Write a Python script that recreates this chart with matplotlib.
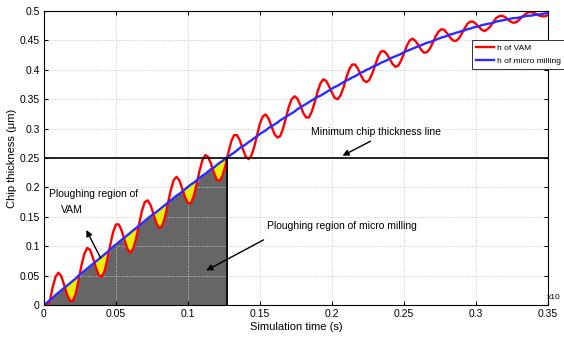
# chip thickness of VAM vs micro milling, ploughing regions shaded

import numpy as np
import matplotlib
matplotlib.use("Agg")
import matplotlib.pyplot as plt
from matplotlib.patches import Rectangle
from matplotlib.ticker import FormatStrFormatter

# simulation time (s, x10^-3)
time = [0.000, 0.002, 0.004, 0.006, 0.008, 0.010, 0.012, 0.014, 0.016, 0.018,
        0.020, 0.022, 0.024, 0.026, 0.028, 0.030, 0.032, 0.034, 0.036, 0.038,
        0.040, 0.042, 0.044, 0.046, 0.048, 0.050, 0.052, 0.054, 0.056, 0.058,
        0.060, 0.062, 0.064, 0.066, 0.068, 0.070, 0.072, 0.074, 0.076, 0.078,
        0.080, 0.082, 0.084, 0.086, 0.088, 0.090, 0.092, 0.094, 0.096, 0.098,
        0.100, 0.102, 0.104, 0.106, 0.108, 0.110, 0.112, 0.114, 0.116, 0.118,
        0.120, 0.122, 0.124, 0.126, 0.128, 0.130, 0.132, 0.134, 0.136, 0.138,
        0.140, 0.142, 0.144, 0.146, 0.148, 0.150, 0.152, 0.154, 0.156, 0.158,
        0.160, 0.162, 0.164, 0.166, 0.168, 0.170, 0.172, 0.174, 0.176, 0.178,
        0.180, 0.182, 0.184, 0.186, 0.188, 0.190, 0.192, 0.194, 0.196, 0.198,
        0.200, 0.202, 0.204, 0.206, 0.208, 0.210, 0.212, 0.214, 0.216, 0.218,
        0.220, 0.222, 0.224, 0.226, 0.228, 0.230, 0.232, 0.234, 0.236, 0.238,
        0.240, 0.242, 0.244, 0.246, 0.248, 0.250, 0.252, 0.254, 0.256, 0.258,
        0.260, 0.262, 0.264, 0.266, 0.268, 0.270, 0.272, 0.274, 0.276, 0.278,
        0.280, 0.282, 0.284, 0.286, 0.288, 0.290, 0.292, 0.294, 0.296, 0.298,
        0.300, 0.302, 0.304, 0.306, 0.308, 0.310, 0.312, 0.314, 0.316, 0.318,
        0.320, 0.322, 0.324, 0.326, 0.328, 0.330, 0.332, 0.334, 0.336, 0.338,
        0.340, 0.342, 0.344, 0.346, 0.348, 0.350]

# h of VAM (red)
h_vam = [0.000, 0.000, 0.006, 0.030, 0.048, 0.055, 0.049, 0.034, 0.018, 0.007,
         0.007, 0.019, 0.042, 0.067, 0.087, 0.097, 0.094, 0.080, 0.064, 0.051,
         0.048, 0.057, 0.078, 0.102, 0.124, 0.137, 0.137, 0.126, 0.110, 0.095,
         0.089, 0.096, 0.113, 0.137, 0.160, 0.175, 0.178, 0.170, 0.155, 0.139,
         0.131, 0.134, 0.149, 0.172, 0.195, 0.212, 0.218, 0.212, 0.198, 0.183,
         0.173, 0.173, 0.185, 0.205, 0.228, 0.246, 0.255, 0.252, 0.240, 0.225,
         0.213, 0.211, 0.220, 0.237, 0.259, 0.278, 0.289, 0.289, 0.280, 0.266,
         0.253, 0.248, 0.254, 0.269, 0.289, 0.309, 0.321, 0.324, 0.317, 0.304,
         0.291, 0.285, 0.287, 0.300, 0.318, 0.337, 0.350, 0.355, 0.351, 0.340,
         0.327, 0.319, 0.319, 0.329, 0.345, 0.363, 0.377, 0.384, 0.381, 0.372,
         0.361, 0.352, 0.350, 0.357, 0.370, 0.387, 0.401, 0.409, 0.409, 0.402,
         0.391, 0.382, 0.379, 0.383, 0.394, 0.408, 0.422, 0.431, 0.432, 0.427,
         0.419, 0.410, 0.405, 0.407, 0.416, 0.428, 0.441, 0.450, 0.453, 0.449,
         0.442, 0.434, 0.429, 0.430, 0.436, 0.446, 0.457, 0.465, 0.469, 0.468,
         0.462, 0.455, 0.450, 0.449, 0.453, 0.461, 0.470, 0.478, 0.482, 0.482,
         0.478, 0.473, 0.468, 0.466, 0.469, 0.474, 0.481, 0.488, 0.491, 0.492,
         0.490, 0.486, 0.482, 0.480, 0.481, 0.485, 0.490, 0.494, 0.498, 0.498,
         0.497, 0.495, 0.492, 0.491, 0.491, 0.493]

# h of micro milling (blue)
h_mm = [0.000, 0.004, 0.008, 0.012, 0.017, 0.021, 0.025, 0.029, 0.033, 0.037,
        0.041, 0.045, 0.050, 0.054, 0.058, 0.062, 0.066, 0.070, 0.074, 0.078,
        0.082, 0.086, 0.090, 0.095, 0.099, 0.103, 0.107, 0.111, 0.115, 0.119,
        0.123, 0.127, 0.131, 0.135, 0.139, 0.143, 0.147, 0.151, 0.155, 0.158,
        0.162, 0.166, 0.170, 0.174, 0.178, 0.182, 0.186, 0.189, 0.193, 0.197,
        0.201, 0.205, 0.208, 0.212, 0.216, 0.220, 0.223, 0.227, 0.231, 0.234,
        0.238, 0.242, 0.245, 0.249, 0.252, 0.256, 0.259, 0.263, 0.267, 0.270,
        0.273, 0.277, 0.280, 0.284, 0.287, 0.291, 0.294, 0.297, 0.301, 0.304,
        0.307, 0.310, 0.314, 0.317, 0.320, 0.323, 0.326, 0.329, 0.333, 0.336,
        0.339, 0.342, 0.345, 0.348, 0.351, 0.354, 0.356, 0.359, 0.362, 0.365,
        0.368, 0.371, 0.373, 0.376, 0.379, 0.382, 0.384, 0.387, 0.389, 0.392,
        0.395, 0.397, 0.400, 0.402, 0.405, 0.407, 0.409, 0.412, 0.414, 0.416,
        0.419, 0.421, 0.423, 0.425, 0.427, 0.430, 0.432, 0.434, 0.436, 0.438,
        0.440, 0.442, 0.444, 0.446, 0.447, 0.449, 0.451, 0.453, 0.455, 0.456,
        0.458, 0.460, 0.461, 0.463, 0.464, 0.466, 0.467, 0.469, 0.470, 0.472,
        0.473, 0.474, 0.476, 0.477, 0.478, 0.479, 0.480, 0.482, 0.483, 0.484,
        0.485, 0.486, 0.487, 0.488, 0.488, 0.489, 0.490, 0.491, 0.492, 0.492,
        0.493, 0.494, 0.494, 0.495, 0.496, 0.496]

h_min = 0.25    # minimum chip thickness
t_cut = 0.127   # where micro milling reaches h_min

t = np.array(time)
red = np.array(h_vam)
blue = np.array(h_mm)

plt.rcParams['font.family'] = ['Liberation Sans', 'DejaVu Sans']
fig = plt.figure(figsize=(5.64, 3.38), dpi=100)
ax = fig.add_axes([0.078, 0.0976, 0.8936, 0.8698])

# shaded ploughing regions, cut off at t_cut
clip = Rectangle((0, 0), t_cut, 0.3, transform=ax.transData)
gray = ax.fill_between(t, 0, np.minimum(red, blue), color="#666666", lw=0)
yel = ax.fill_between(t, red, blue, where=red < blue, interpolate=True, color="#e8f000", lw=0)
gray.set_clip_path(clip)
yel.set_clip_path(clip)

ax.plot(t, red, color="#ff0000", lw=1.7, label="h of VAM")
ax.plot(t, blue, color="#2b2bff", lw=1.7, label="h of micro milling")
ax.axhline(h_min, color="black", lw=1.2)
ax.plot([t_cut, t_cut], [0, h_min], color="black", lw=1.2)

ax.set_xlim(0, 0.35)
ax.set_ylim(0, 0.5)
ax.set_xticks(np.arange(0, 0.351, 0.05))
ax.set_yticks(np.arange(0, 0.501, 0.05))
ax.xaxis.set_major_formatter(FormatStrFormatter("%g"))
ax.yaxis.set_major_formatter(FormatStrFormatter("%g"))
ax.tick_params(direction="in", top=True, right=True, length=3, labelsize=7.5, pad=3)
ax.grid(True, ls=":", color="#c8c8c8", lw=0.7)
for s in ax.spines.values():
    s.set_linewidth(0.8)
ax.set_xlabel("Simulation time (s)", fontsize=8, labelpad=2)
ax.set_ylabel("Chip thickness (μm)", fontsize=8, labelpad=2)
ax.text(0.998, 0.027, "x10", transform=ax.transAxes, fontsize=6, ha="left", va="center")

arrow = dict(arrowstyle="-|>", color="black", lw=1, mutation_scale=9)
ax.text(0.2306, 0.2945, "Minimum chip thickness line", fontsize=7.5, ha="center", va="center")
ax.annotate("", xy=(0.2056, 0.2517), xytext=(0.2285, 0.2808), arrowprops=arrow)
ax.text(0.207, 0.1336, "Ploughing region of micro milling", fontsize=7.5, ha="center", va="center")
ax.annotate("", xy=(0.111, 0.0565), xytext=(0.1542, 0.113), arrowprops=arrow)
ax.text(0.0347, 0.1884, "Ploughing region of", fontsize=7.5, ha="center", va="center")
ax.text(0.0194, 0.161, "VAM", fontsize=7.5, ha="center", va="center")
ax.annotate("", xy=(0.0285, 0.1318), xytext=(0.0403, 0.0753), arrowprops=arrow)

leg = ax.legend(loc="upper left", bbox_to_anchor=(0.849, 0.901), fontsize=6, fancybox=False,
                framealpha=1, edgecolor="#333333", handlelength=2.2, borderpad=0.5,
                labelspacing=0.6, handletextpad=0.3, borderaxespad=0)
leg.get_frame().set_linewidth(0.7)

fig.savefig("out.png", dpi=100)
